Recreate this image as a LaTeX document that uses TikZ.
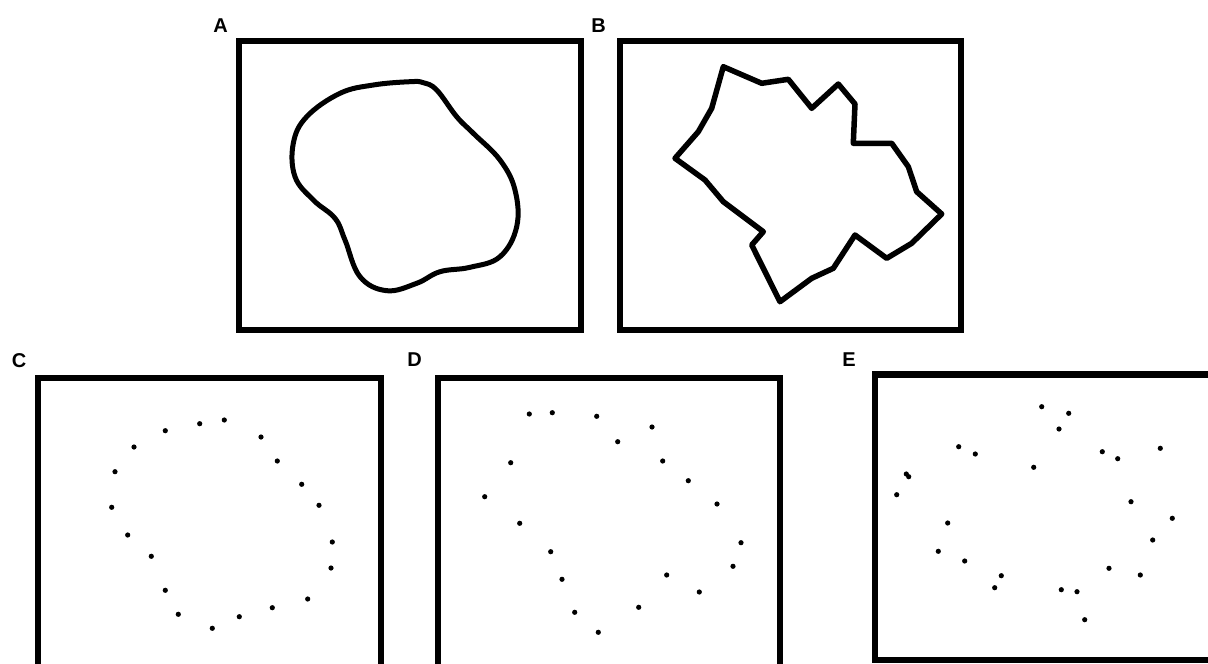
\documentclass[tikz,border=0pt]{standalone}
\usepackage{fontspec}
\setmainfont{Liberation Sans}
\tikzset{
  frame/.style={draw=black, line width=6.5pt},
  outline/.style={draw=black, line width=5pt, line join=round, line cap=round},
  dot/.style={fill=black},
  panellabel/.style={font=\fontsize{20}{22}\selectfont\bfseries, inner sep=0pt, anchor=center}
}
\begin{document}
\begin{tikzpicture}[x=1pt,y=-1pt]
\useasboundingbox (0,0) rectangle (1208,664);
\clip (0,0) rectangle (1208,664);
\fill[white] (0,0) rectangle (1208,664);
% labels
\node[panellabel] (la) at (220.5,26) {A};
\node[panellabel] (lb) at (598.5,25.5) {B};
\node[panellabel] (lc) at (19,361) {C};
\node[panellabel] (ld) at (414.5,359.5) {D};
\node[panellabel] (le) at (849,360) {E};
% frames
\draw[frame] (239,41) rectangle (581,330);
\draw[frame] (620,41) rectangle (961,330);
\draw[frame] (38,378) rectangle (381,690);
\draw[frame] (438,378) rectangle (780,690);
\draw[frame] (875,374.5) rectangle (1230,660);
% A: smooth blob
\draw[outline] plot[smooth cycle, tension=0.65] coordinates {
 (410,81.7) (373.3,85) (340,93.3) (306.7,116.7) (293.3,143.3) (295,176.7)
 (313.3,200) (335,218.3) (345,240) (360,276.7) (386.7,290.7) (416.7,283.3)
 (440,271.7) (470,267.3) (500,256.7) (516.7,226.7) (515,190) (500,160)
 (473.3,133.3) (456.7,116.7) (436.7,90) (423.3,82.7)};
% B: polygon
\draw[outline, line width=5.5pt, line cap=butt] (723.3,66.7) -- (761.7,83.3) -- (788.3,79.3) -- (811.7,108.3)
 -- (838.3,84) -- (855,104) -- (853.3,143.3) -- (891.7,143.3) -- (908.3,166.7)
 -- (916.7,191.7) -- (941.7,214) -- (911.7,243.3) -- (886.7,258.3) -- (855,235)
 -- (833.3,268.3) -- (811.7,278.3) -- (780,301.7) -- (751.7,245) -- (763.3,231.7)
 -- (723.3,201.7) -- (705,180) -- (675,158.3) -- (698.3,131.7) -- (711.7,108.3) -- cycle;
% C: dots
\foreach \p in {(224.3,420),(199.7,423.7),(165.3,430.7),(134,447),(115,471.7),
 (111.7,507.3),(127.7,535),(151.3,556.3),(165.3,590.3),(178.3,614.3),(212.3,628.3),
 (239.3,616.7),(272.3,607.7),(307.7,599),(331,568),(332.3,542),(319,505.3),
 (301.7,484.3),(277.3,461),(261,437)}
  \fill[dot] \p circle (2.6);
% D: dots
\foreach \p in {(529.3,414),(552.3,412.7),(596.7,416.3),(652,427),(617.7,441.7),
 (662.7,461),(510.7,462.7),(688.3,480.7),(484.7,496.7),(717,504),(519.7,523.3),
 (741,542.7),(550.7,551.7),(733,566.3),(562,579.3),(666.7,575),(699.3,592),
 (638.7,607.3),(574.7,612.3),(598.3,632.3)}
  \fill[dot] \p circle (2.6);
% E: dots
\foreach \p in {(1041.7,406.7),(1068.7,413.3),(1059,429),(958.7,446.7),(975.3,454),
 (1102.3,451.7),(1117.7,458.7),(1160.3,448.3),(1033.7,467.3),(906.3,474),(908.7,476.7),
 (896.7,494.7),(1131,501.7),(1172.3,518.3),(947.7,523),(1152.7,540),(938.3,551.3),
 (964.7,561),(1109,568.3),(1140.3,575),(1001.3,575.7),(994.7,587.7),(1061.3,589.7),
 (1077,591.7),(1084.7,619.7)}
  \fill[dot] \p circle (2.6);
\end{tikzpicture}
\end{document}
